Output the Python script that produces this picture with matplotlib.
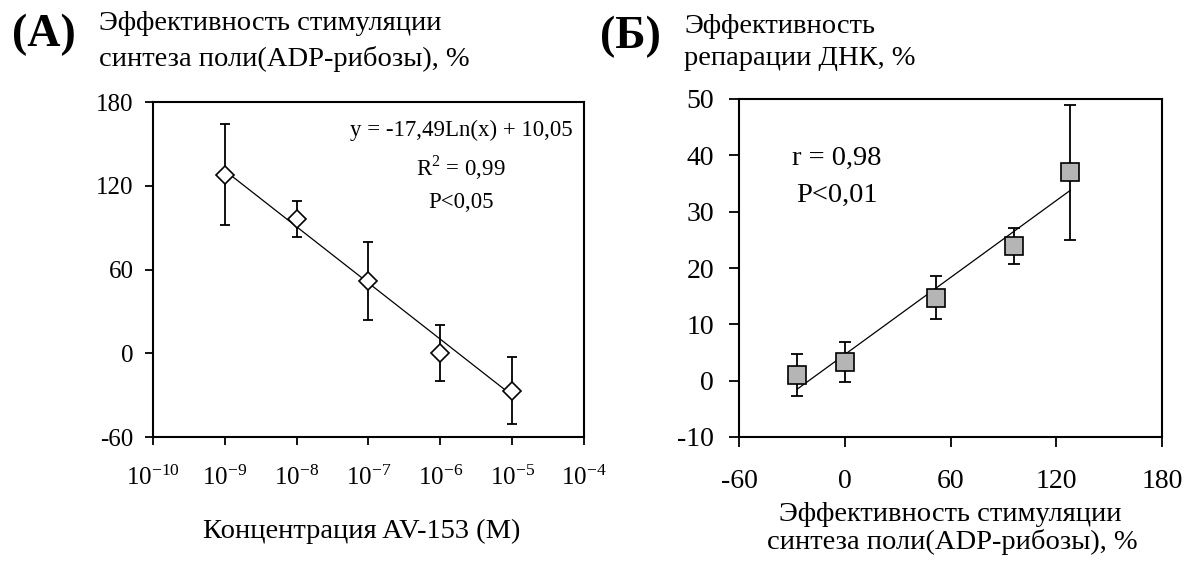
import matplotlib
matplotlib.use("Agg")
import matplotlib.pyplot as plt
import matplotlib.ticker as mticker
import numpy as np

plt.rcParams['font.family'] = ['Liberation Serif', 'DejaVu Serif']
plt.rcParams['mathtext.fontset'] = 'custom'
plt.rcParams['mathtext.rm'] = 'Liberation Serif'
plt.rcParams['axes.unicode_minus'] = False

# панель А: концентрация AV-153 (M) и стимуляция синтеза поли(ADP-рибозы), %
conc = np.array([1e-9, 1e-8, 1e-7, 1e-6, 1e-5])
parp = np.array([128, 96, 52, 0, -27])
parp_err = np.array([36, 13, 28, 20, 24])
# тренд из подписи: y = -17,49Ln(x) + 10,05, x в мкМ
a_slope, a_icpt = -17.49, 10.05

# панель Б: репарация ДНК, % (в том же порядке, что и parp)
repair = np.array([37.0, 23.9, 14.7, 3.3, 1.0])
repair_err = np.array([12.0, 3.2, 3.8, 3.5, 3.7])

W, H = 1189, 561
fig = plt.figure(figsize=(W / 100, H / 100), dpi=100)

def fx(px):
    return px / W

def fy(py):
    return 1 - py / H

# ---------- (А) ----------
axA = fig.add_axes([fx(153), fy(437), fx(584) - fx(153), fy(102) - fy(437)])
axA.errorbar(conc, parp, yerr=parp_err, fmt='none', ecolor='black',
             elinewidth=1.3, capsize=3.5, capthick=1.3, zorder=2)
xx = np.logspace(-9, -5, 50)
axA.plot(xx, a_slope * np.log(xx * 1e6) + a_icpt, color='black', lw=0.9, zorder=3)
axA.plot(conc, parp, 'D', ms=9, mfc='white', mec='black', mew=1.2, zorder=4)
axA.set_xscale('log')
axA.set_xlim(1e-10, 1e-4)
axA.set_ylim(-60, 180)
axA.xaxis.set_major_locator(mticker.LogLocator(base=10, numticks=10))
axA.xaxis.set_minor_locator(mticker.NullLocator())
axA.set_yticks([-60, 0, 60, 120, 180])
axA.tick_params(axis='both', direction='out', length=6, width=1.3, labelsize=18)
axA.tick_params(axis='x', pad=15)
axA.tick_params(axis='y', pad=8)
for s in axA.spines.values():
    s.set_linewidth(1.5)

fig.text(fx(362), fy(538), 'Концентрация AV-153 (M)', fontsize=20.5,
         ha='center', va='baseline')

fig.text(fx(461), fy(130), 'y = -17,49Ln(x) + 10,05', ha='center', va='center', fontsize=16.5)
fig.text(fx(461), fy(168), 'R$^2$ = 0,99', ha='center', va='center', fontsize=16.5)
fig.text(fx(461), fy(202), 'P<0,05', ha='center', va='center', fontsize=16.5)

fig.text(fx(12), fy(46), '(А)', fontsize=33, fontweight='bold', ha='left', va='baseline')
fig.text(fx(99), fy(30), 'Эффективность стимуляции', fontsize=20.5, ha='left', va='baseline')
fig.text(fx(99), fy(66), 'синтеза поли(ADP-рибозы), %', fontsize=20.5, ha='left', va='baseline')

# ---------- (Б) ----------
axB = fig.add_axes([fx(739), fy(437), fx(1162) - fx(739), fy(99) - fy(437)])
axB.errorbar(parp, repair, yerr=repair_err, fmt='none', ecolor='black',
             elinewidth=1.3, capsize=4.5, capthick=1.3, zorder=2)
k, b = np.polyfit(parp, repair, 1)
lx = np.array([parp.min(), parp.max()])
axB.plot(lx, k * lx + b, color='black', lw=0.9, zorder=3)
axB.plot(parp, repair, 's', ms=13.5, mfc='#b5b5b5', mec='black', mew=1.2, zorder=4)
axB.set_xlim(-60, 180)
axB.set_ylim(-10, 50)
axB.set_xticks([-60, 0, 60, 120, 180])
axB.set_yticks([-10, 0, 10, 20, 30, 40, 50])
axB.tick_params(axis='both', direction='out', length=7, width=1.3, labelsize=20)
axB.tick_params(axis='x', pad=16)
axB.tick_params(axis='y', pad=11)
for s in axB.spines.values():
    s.set_linewidth(1.5)

fig.text(fx(950), fy(521), 'Эффективность стимуляции', fontsize=20.5,
         ha='center', va='baseline')
fig.text(fx(952), fy(549), 'синтеза поли(ADP-рибозы), %', fontsize=20.5,
         ha='center', va='baseline')

fig.text(fx(837), fy(158), 'r = 0,98', ha='center', va='center', fontsize=20.5)
fig.text(fx(837), fy(195), 'P<0,01', ha='center', va='center', fontsize=20.5)

fig.text(fx(600), fy(48), '(Б)', fontsize=33, fontweight='bold', ha='left', va='baseline')
fig.text(fx(684), fy(33), 'Эффективность', fontsize=20.5, ha='left', va='baseline')
fig.text(fx(684), fy(65), 'репарации ДНК, %', fontsize=20.5, ha='left', va='baseline')

fig.savefig('out.png', dpi=100)
